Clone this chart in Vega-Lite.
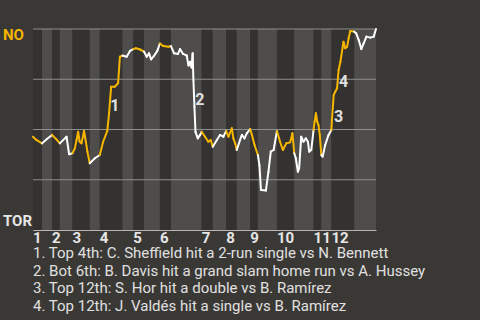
{
  "$schema": "https://vega.github.io/schema/vega-lite/v6.json",
  "width": 343,
  "height": 201,
  "autosize": {"type": "none"},
  "padding": {"left": 33, "top": 29, "right": 104, "bottom": 90},
  "background": "#3a3835",
  "config": {
    "view": {"stroke": null},
    "font": "Roboto",
    "axis": {"labelOverlap": false, "labelFlush": false, "labelBound": false, "title": null, "grid": false, "ticks": false, "tickSize": 0, "domainColor": "#b4b4b4", "domainWidth": 1, "labelFont": "Roboto", "labelFontSize": 15, "labelFontWeight": "bold", "labelColor": "#e6e6e6"}
  },
  "title": {
    "text": [
      "1. Top 4th: C. Sheffield hit a 2-run single vs N. Bennett",
      "2. Bot 6th: B. Davis hit a grand slam home run vs A. Hussey",
      "3. Top 12th: S. Hor hit a double vs B. Ramírez",
      "4. Top 12th: J. Valdés hit a single vs B. Ramírez"
    ],
    "orient": "bottom",
    "anchor": "start",
    "frame": "group",
    "offset": 0,
    "font": "Roboto",
    "fontSize": 15,
    "fontWeight": "normal",
    "color": "#e0e0e0",
    "lineHeight": 17.7
  },
  "datasets": {
    "halves": [
      {"inn": 1, "h": "T", "s": 0, "e": 3.5},
      {"inn": 1, "h": "B", "s": 3.5, "e": 7.4},
      {"inn": 2, "h": "T", "s": 7.4, "e": 10.4},
      {"inn": 2, "h": "B", "s": 10.4, "e": 15.3},
      {"inn": 3, "h": "T", "s": 15.3, "e": 22.0},
      {"inn": 3, "h": "B", "s": 22.0, "e": 25.9},
      {"inn": 4, "h": "T", "s": 25.9, "e": 34.7},
      {"inn": 4, "h": "B", "s": 34.7, "e": 38.9},
      {"inn": 5, "h": "T", "s": 38.9, "e": 43.0},
      {"inn": 5, "h": "B", "s": 43.0, "e": 49.2},
      {"inn": 6, "h": "T", "s": 49.2, "e": 53.5},
      {"inn": 6, "h": "B", "s": 53.5, "e": 65.4},
      {"inn": 7, "h": "T", "s": 65.4, "e": 69.7},
      {"inn": 7, "h": "B", "s": 69.7, "e": 74.9},
      {"inn": 8, "h": "T", "s": 74.9, "e": 79.0},
      {"inn": 8, "h": "B", "s": 79.0, "e": 84.2},
      {"inn": 9, "h": "T", "s": 84.2, "e": 87.2},
      {"inn": 9, "h": "B", "s": 87.2, "e": 94.6},
      {"inn": 10, "h": "T", "s": 94.6, "e": 101.3},
      {"inn": 10, "h": "B", "s": 101.3, "e": 108.8},
      {"inn": 11, "h": "T", "s": 108.8, "e": 111.8},
      {"inn": 11, "h": "B", "s": 111.8, "e": 115.7},
      {"inn": 12, "h": "T", "s": 115.7, "e": 124.6},
      {"inn": 12, "h": "B", "s": 124.6, "e": 133}
    ],
    "grid": [{"v": 0.25}, {"v": 0.5}, {"v": 0.75}, {"v": 1}],
    "pts": [
      {"x": 0, "wp": 0.464, "h": "T"},
      {"x": 1.3, "wp": 0.448, "h": "T"},
      {"x": 3.5, "wp": 0.431, "h": "T"},
      {"x": 5.4, "wp": 0.453, "h": "B"},
      {"x": 7.4, "wp": 0.473, "h": "B"},
      {"x": 9.1, "wp": 0.451, "h": "T"},
      {"x": 10.4, "wp": 0.431, "h": "T"},
      {"x": 13.0, "wp": 0.464, "h": "B"},
      {"x": 14.0, "wp": 0.377, "h": "B"},
      {"x": 15.3, "wp": 0.382, "h": "B"},
      {"x": 16.2, "wp": 0.406, "h": "T"},
      {"x": 16.9, "wp": 0.448, "h": "T"},
      {"x": 17.5, "wp": 0.489, "h": "T"},
      {"x": 18.1, "wp": 0.439, "h": "T"},
      {"x": 18.8, "wp": 0.431, "h": "T"},
      {"x": 19.8, "wp": 0.493, "h": "T"},
      {"x": 20.5, "wp": 0.439, "h": "T"},
      {"x": 21.1, "wp": 0.390, "h": "T"},
      {"x": 22.0, "wp": 0.332, "h": "T"},
      {"x": 24.0, "wp": 0.357, "h": "B"},
      {"x": 25.9, "wp": 0.373, "h": "B"},
      {"x": 27.2, "wp": 0.439, "h": "T"},
      {"x": 28.8, "wp": 0.493, "h": "T"},
      {"x": 29.5, "wp": 0.581, "h": "T"},
      {"x": 30.3, "wp": 0.713, "h": "T"},
      {"x": 31.7, "wp": 0.713, "h": "T"},
      {"x": 33.0, "wp": 0.730, "h": "T"},
      {"x": 33.7, "wp": 0.862, "h": "T"},
      {"x": 34.7, "wp": 0.868, "h": "T"},
      {"x": 36.3, "wp": 0.862, "h": "B"},
      {"x": 37.6, "wp": 0.891, "h": "B"},
      {"x": 38.9, "wp": 0.900, "h": "B"},
      {"x": 39.9, "wp": 0.904, "h": "T"},
      {"x": 41.5, "wp": 0.898, "h": "T"},
      {"x": 43.0, "wp": 0.888, "h": "T"},
      {"x": 44.1, "wp": 0.862, "h": "B"},
      {"x": 45.0, "wp": 0.879, "h": "B"},
      {"x": 45.8, "wp": 0.849, "h": "B"},
      {"x": 46.9, "wp": 0.866, "h": "B"},
      {"x": 48.2, "wp": 0.891, "h": "B"},
      {"x": 49.2, "wp": 0.928, "h": "B"},
      {"x": 50.5, "wp": 0.915, "h": "T"},
      {"x": 52.5, "wp": 0.912, "h": "T"},
      {"x": 53.5, "wp": 0.915, "h": "T"},
      {"x": 54.7, "wp": 0.879, "h": "B"},
      {"x": 56.2, "wp": 0.876, "h": "B"},
      {"x": 57.0, "wp": 0.900, "h": "B"},
      {"x": 58.2, "wp": 0.876, "h": "B"},
      {"x": 59.6, "wp": 0.868, "h": "B"},
      {"x": 60.3, "wp": 0.818, "h": "B"},
      {"x": 60.9, "wp": 0.837, "h": "B"},
      {"x": 61.5, "wp": 0.808, "h": "B"},
      {"x": 61.9, "wp": 0.879, "h": "B"},
      {"x": 62.2, "wp": 0.746, "h": "B"},
      {"x": 62.6, "wp": 0.613, "h": "B"},
      {"x": 63.0, "wp": 0.488, "h": "B"},
      {"x": 63.9, "wp": 0.456, "h": "B"},
      {"x": 64.8, "wp": 0.473, "h": "B"},
      {"x": 65.4, "wp": 0.489, "h": "B"},
      {"x": 66.7, "wp": 0.464, "h": "T"},
      {"x": 68.0, "wp": 0.439, "h": "T"},
      {"x": 68.9, "wp": 0.448, "h": "T"},
      {"x": 69.7, "wp": 0.414, "h": "T"},
      {"x": 71.3, "wp": 0.448, "h": "B"},
      {"x": 72.5, "wp": 0.473, "h": "B"},
      {"x": 73.8, "wp": 0.464, "h": "B"},
      {"x": 74.9, "wp": 0.493, "h": "B"},
      {"x": 75.8, "wp": 0.464, "h": "T"},
      {"x": 77.1, "wp": 0.506, "h": "T"},
      {"x": 77.7, "wp": 0.456, "h": "T"},
      {"x": 78.4, "wp": 0.431, "h": "T"},
      {"x": 79.0, "wp": 0.398, "h": "T"},
      {"x": 80.3, "wp": 0.448, "h": "B"},
      {"x": 81.0, "wp": 0.473, "h": "B"},
      {"x": 82.0, "wp": 0.456, "h": "B"},
      {"x": 82.9, "wp": 0.481, "h": "B"},
      {"x": 84.2, "wp": 0.502, "h": "B"},
      {"x": 84.9, "wp": 0.473, "h": "T"},
      {"x": 85.9, "wp": 0.423, "h": "T"},
      {"x": 87.2, "wp": 0.373, "h": "T"},
      {"x": 87.8, "wp": 0.323, "h": "B"},
      {"x": 88.4, "wp": 0.199, "h": "B"},
      {"x": 90.3, "wp": 0.196, "h": "B"},
      {"x": 91.3, "wp": 0.290, "h": "B"},
      {"x": 92.2, "wp": 0.390, "h": "B"},
      {"x": 93.3, "wp": 0.398, "h": "B"},
      {"x": 94.6, "wp": 0.493, "h": "B"},
      {"x": 95.8, "wp": 0.439, "h": "T"},
      {"x": 96.9, "wp": 0.398, "h": "T"},
      {"x": 98.2, "wp": 0.431, "h": "T"},
      {"x": 99.7, "wp": 0.436, "h": "T"},
      {"x": 100.6, "wp": 0.481, "h": "T"},
      {"x": 101.3, "wp": 0.382, "h": "T"},
      {"x": 101.9, "wp": 0.357, "h": "B"},
      {"x": 102.7, "wp": 0.290, "h": "B"},
      {"x": 103.2, "wp": 0.307, "h": "B"},
      {"x": 104.0, "wp": 0.464, "h": "B"},
      {"x": 104.9, "wp": 0.439, "h": "B"},
      {"x": 105.8, "wp": 0.456, "h": "B"},
      {"x": 106.6, "wp": 0.439, "h": "B"},
      {"x": 107.1, "wp": 0.390, "h": "B"},
      {"x": 107.9, "wp": 0.398, "h": "B"},
      {"x": 108.8, "wp": 0.498, "h": "B"},
      {"x": 109.2, "wp": 0.539, "h": "T"},
      {"x": 109.7, "wp": 0.581, "h": "T"},
      {"x": 110.2, "wp": 0.539, "h": "T"},
      {"x": 110.7, "wp": 0.522, "h": "T"},
      {"x": 111.2, "wp": 0.473, "h": "T"},
      {"x": 111.8, "wp": 0.373, "h": "T"},
      {"x": 112.3, "wp": 0.365, "h": "B"},
      {"x": 113.3, "wp": 0.423, "h": "B"},
      {"x": 114.6, "wp": 0.473, "h": "B"},
      {"x": 115.7, "wp": 0.498, "h": "B"},
      {"x": 115.9, "wp": 0.547, "h": "T"},
      {"x": 116.6, "wp": 0.672, "h": "T"},
      {"x": 117.2, "wp": 0.688, "h": "T"},
      {"x": 117.9, "wp": 0.705, "h": "T"},
      {"x": 118.5, "wp": 0.796, "h": "T"},
      {"x": 119.2, "wp": 0.837, "h": "T"},
      {"x": 120.1, "wp": 0.912, "h": "T"},
      {"x": 120.4, "wp": 0.937, "h": "T"},
      {"x": 121.1, "wp": 0.904, "h": "T"},
      {"x": 121.8, "wp": 0.912, "h": "T"},
      {"x": 122.4, "wp": 0.954, "h": "T"},
      {"x": 123.0, "wp": 0.990, "h": "T"},
      {"x": 124.5, "wp": 0.987, "h": "T"},
      {"x": 125.3, "wp": 0.979, "h": "B"},
      {"x": 126.3, "wp": 0.945, "h": "B"},
      {"x": 127.3, "wp": 0.900, "h": "B"},
      {"x": 128.2, "wp": 0.929, "h": "B"},
      {"x": 129.3, "wp": 0.962, "h": "B"},
      {"x": 130.8, "wp": 0.957, "h": "B"},
      {"x": 132.1, "wp": 0.962, "h": "B"},
      {"x": 133, "wp": 1.0, "h": "B"}
    ],
    "notes": [
      {"n": "1", "x": 29.8, "wp": 0.617},
      {"n": "2", "x": 62.8, "wp": 0.647},
      {"n": "3", "x": 116.6, "wp": 0.561},
      {"n": "4", "x": 118.5, "wp": 0.738}
    ]
  },
  "layer": [
    {
      "data": {"name": "halves"},
      "mark": {"type": "rect"},
      "encoding": {
        "x": {
          "field": "s", "type": "quantitative",
          "scale": {"domain": [0, 133], "nice": false, "zero": false},
          "axis": {"labels": false, "domain": true}
        },
        "x2": {"field": "e"},
        "fill": {
          "field": "h", "type": "nominal",
          "scale": {"domain": ["T", "B"], "range": ["#343230", "#4e4d4b"]},
          "legend": null
        }
      }
    },
    {
      "data": {"name": "grid"},
      "mark": {"type": "rule", "color": "#8e8e8e", "strokeWidth": 1},
      "encoding": {
        "y": {
          "field": "v", "type": "quantitative",
          "scale": {"domain": [0, 1], "nice": false, "zero": false},
          "axis": {
            "values": [0, 1],
            "labelExpr": "datum.value == 1 ? 'NO' : 'TOR'",
            "labelAlign": "left",
            "labelPadding": 30.5,
            "labelBaseline": "alphabetic",
            "labelOffset": {"condition": {"test": "datum.value == 1", "value": 10}, "value": -4.5},
            "labelColor": {"condition": {"test": "datum.value == 1", "value": "#f6b600"}, "value": "#e6e6e6"}
          }
        }
      }
    },
    {
      "data": {"name": "pts"},
      "transform": [
        {"window": [{"op": "lag", "field": "x", "as": "x0"}, {"op": "lag", "field": "wp", "as": "wp0"}], "sort": [{"field": "x"}]},
        {"filter": "datum.x0 != null"}
      ],
      "mark": {"type": "rule", "strokeWidth": 2, "strokeCap": "round"},
      "encoding": {
        "x": {"field": "x0", "type": "quantitative"},
        "x2": {"field": "x"},
        "y": {"field": "wp0", "type": "quantitative"},
        "y2": {"field": "wp"},
        "stroke": {
          "field": "h", "type": "nominal",
          "scale": {"domain": ["T", "B"], "range": ["#f6b600", "#ffffff"]},
          "legend": null
        }
      }
    },
    {
      "data": {"name": "notes"},
      "mark": {"type": "text", "dx": 5, "align": "center", "baseline": "middle", "font": "Roboto", "fontSize": 16, "fontWeight": "bold", "color": "#e0e0e0"},
      "encoding": {
        "x": {"field": "x", "type": "quantitative"},
        "y": {"field": "wp", "type": "quantitative"},
        "text": {"field": "n"}
      }
    },
    {
      "data": {"name": "halves"},
      "transform": [{"filter": "datum.h == 'T'"}],
      "mark": {"type": "text", "align": "left", "baseline": "top", "dy": 1, "font": "Roboto", "fontSize": 15, "fontWeight": "bold", "color": "#e6e6e6"},
      "encoding": {
        "x": {"field": "s", "type": "quantitative"},
        "y": {"datum": 0},
        "text": {"field": "inn"}
      }
    }
  ]
}
